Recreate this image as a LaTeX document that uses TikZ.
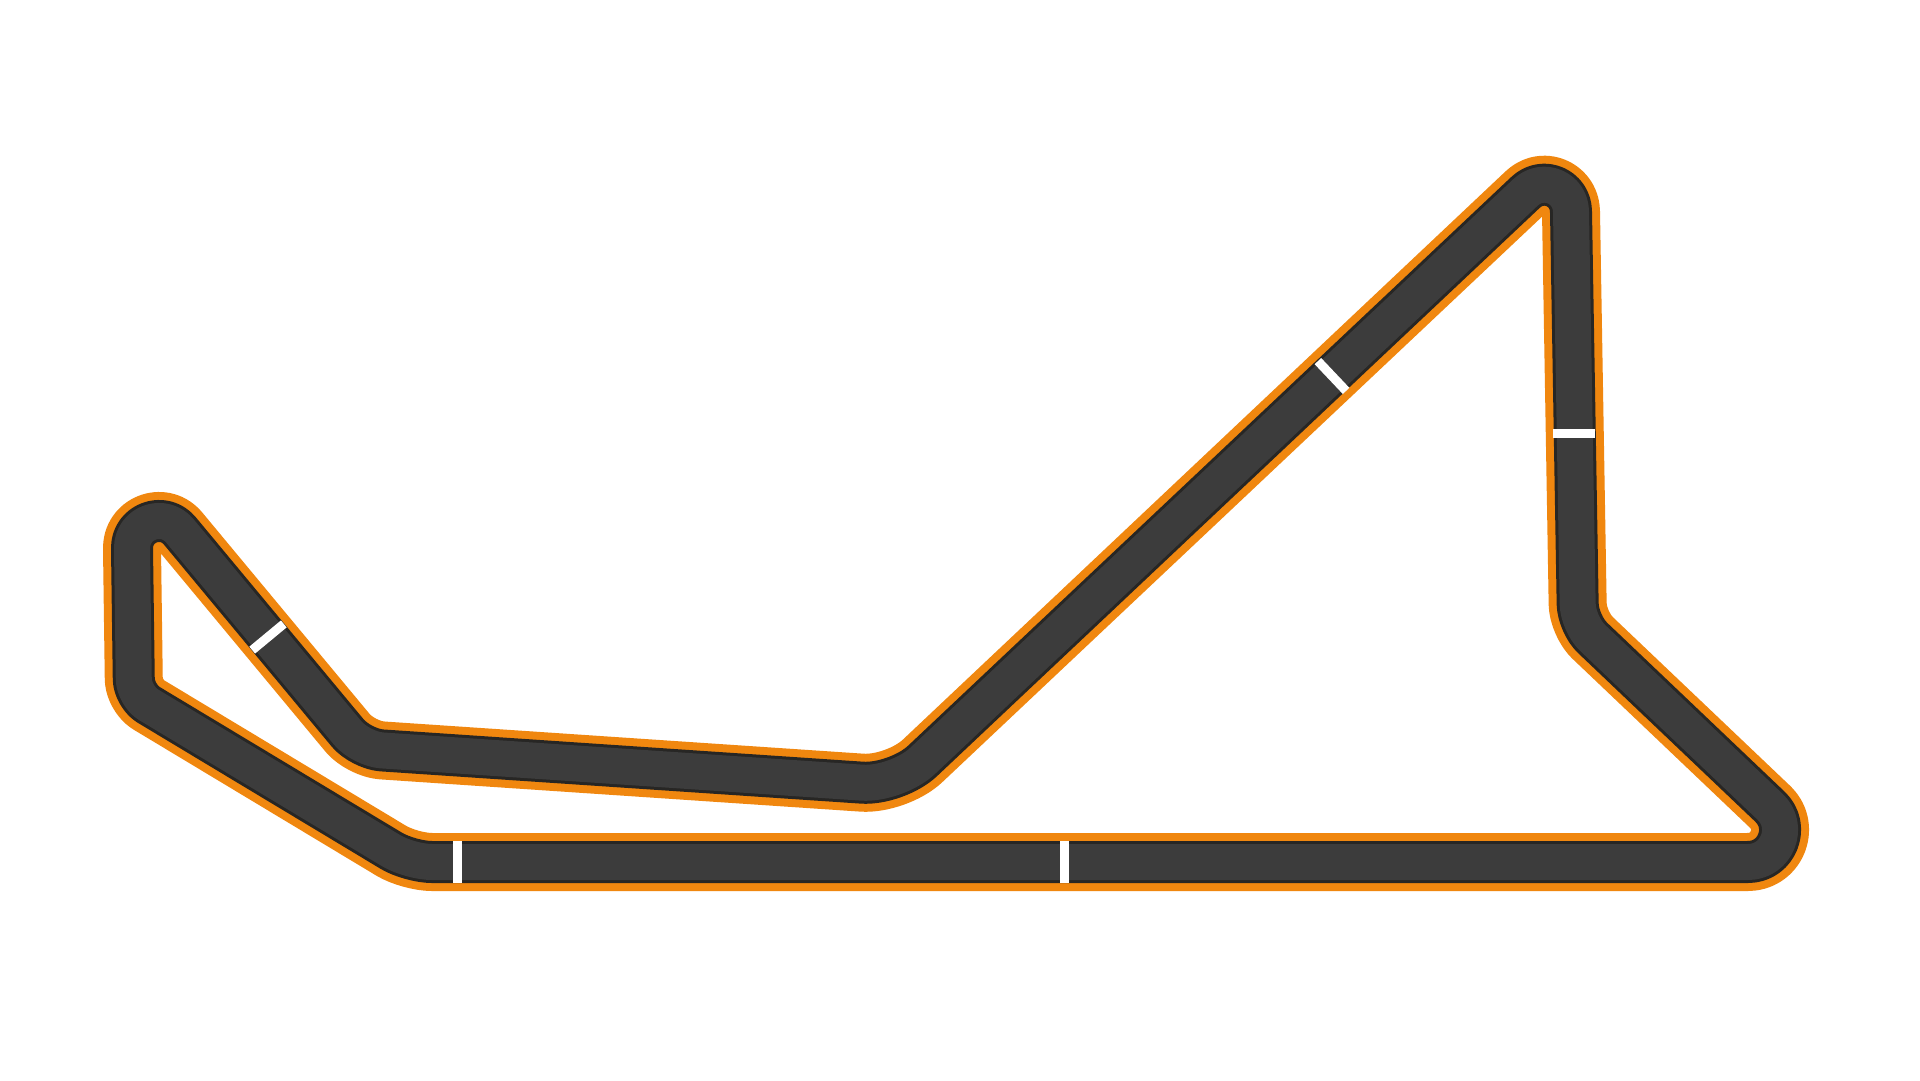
\documentclass[tikz,border=0pt]{standalone}
\usepackage{tikz}
\definecolor{kerb}{HTML}{F0870F}
\definecolor{tarmac}{HTML}{3C3C3C}
\definecolor{tarmacedge}{HTML}{272624}
\tikzset{track/.style={draw=kerb,line width=58pt,line join=round,
  postaction={draw=tarmacedge,line width=42pt,line join=round},
  postaction={draw=tarmac,line width=36pt,line join=round}},
 tickline/.style={draw=white,line width=9pt}}
\begin{document}
\begin{tikzpicture}[x=1pt,y=-1pt]
\fill[white](0,0)rectangle(1920,1080);\useasboundingbox(0,0)rectangle(1920,1080);
% centre line: straights and bends
\coordinate(st)at(1100,862);\coordinate(rv)at(1578,624);\coordinate(cb)at(897,785);\coordinate(lb)at(361,749);
\coordinate(ll)at(134,696);\coordinate(bl)at(410,862);
\coordinate(re1)at(1748,862);\coordinate(rc1)at(1776.9,862);\coordinate(rc2)at(1791,826.7);\coordinate(re2)at(1770.1,806.8);
\coordinate(hp1)at(1571,212);\coordinate(hc1)at(1571,188);\coordinate(hc2)at(1543.2,175.6);\coordinate(hp2)at(1525.5,192.4);
\coordinate(lt2)at(179.7,530.7);\coordinate(lc2)at(163.5,511.3);\coordinate(lc1)at(132,522.7);\coordinate(lt1)at(132,548);
\draw[track](st)--(re1)..controls(rc1)and(rc2)..(re2)[rounded corners=20pt]--(rv)[sharp corners]--(hp1)..controls(hc1)and(hc2)..(hp2)
 [rounded corners=35pt]--(cb)[rounded corners=21pt]--(lb)[sharp corners]--(lt2)..controls(lc2)and(lc1)..(lt1)
 [rounded corners=17pt]--(ll)[rounded corners=22pt]--(bl)[sharp corners]--cycle;
% white marks
\coordinate(m1a)at(457,841);\coordinate(m1b)at(457,883);\coordinate(m2a)at(1064,841);\coordinate(m2b)at(1064,883);
\coordinate(m3a)at(252.2,650.1);\coordinate(m3b)at(283.8,623.9);\coordinate(m4a)at(1317.9,361.1);\coordinate(m4b)at(1346.1,390.9);
\coordinate(m5a)at(1553,433);\coordinate(m5b)at(1595,433);
\draw[tickline](m1a)--(m1b);\draw[tickline](m2a)--(m2b);\draw[tickline](m3a)--(m3b);\draw[tickline](m4a)--(m4b);\draw[tickline](m5a)--(m5b);
\end{tikzpicture}
\end{document}
